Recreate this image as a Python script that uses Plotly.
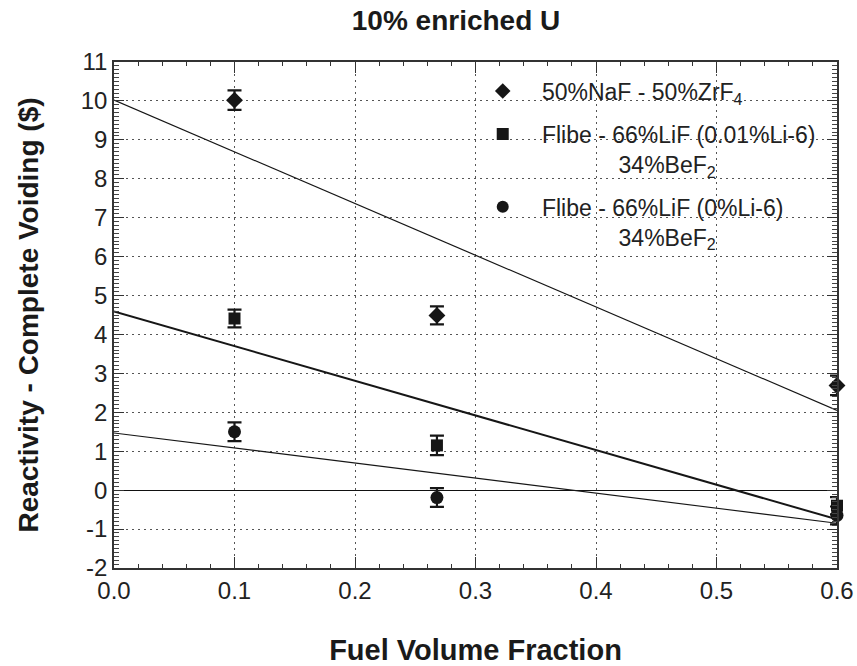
import plotly.graph_objects as go

# ---- data ----
fuel_fraction = [0.1, 0.268, 0.6]

naf_zrf4 = [10.02, 4.49, 2.69]
naf_zrf4_err = [0.25, 0.23, 0.25]

flibe_001 = [4.41, 1.15, -0.40]
flibe_001_err = [0.23, 0.25, 0.22]

flibe_0 = [1.50, -0.19, -0.65]
flibe_0_err = [0.24, 0.24, 0.23]

fit_x = [0.0, 0.6]
fit_naf_zrf4 = [10.02, 2.05]
fit_flibe_001 = [4.59, -0.75]
fit_flibe_0 = [1.47, -0.85]

x_ticks = [0.0, 0.1, 0.2, 0.3, 0.4, 0.5, 0.6]
x_tick_labels = ["0.0", "0.1", "0.2", "0.3", "0.4", "0.5", "0.6"]
y_ticks = list(range(-2, 12))
y_tick_labels = [str(v) for v in y_ticks]  # plain hyphen minus as in the reference

names = [
    "\u00a0\u00a0\u00a050%NaF - 50%ZrF<sub>4</sub>",
    "\u00a0\u00a0\u00a0Flibe - 66%LiF (0.01%Li-6)<br>" + "\u00a0" * 15 + "34%BeF<sub>2</sub>",
    "\u00a0\u00a0\u00a0Flibe - 66%LiF (0%Li-6)<br>" + "\u00a0" * 15 + "34%BeF<sub>2</sub>",
]

FONT = "Liberation Sans, Arial, Helvetica, sans-serif"
INK = "#161616"

fig = go.Figure()

# fit lines
for yv, w in [(fit_naf_zrf4, 1.2), (fit_flibe_001, 2.0), (fit_flibe_0, 1.1)]:
    fig.add_trace(go.Scatter(x=fit_x, y=yv, mode="lines",
                             line=dict(color=INK, width=w),
                             showlegend=False, hoverinfo="skip"))

series = [
    (naf_zrf4, naf_zrf4_err, "diamond", 13),
    (flibe_001, flibe_001_err, "square", 12),
    (flibe_0, flibe_0_err, "circle", 13),
]
for i, (yv, err, sym, size) in enumerate(series):
    fig.add_trace(go.Scatter(
        x=fuel_fraction, y=yv, mode="markers", name=names[i],
        legendgroup=f"g{i}", cliponaxis=False,
        marker=dict(symbol=sym, size=size, color=INK),
        error_y=dict(type="data", array=err, visible=True,
                     color=INK, thickness=2.2, width=7),
    ))

axis_common = dict(
    showline=True, linecolor="#333", linewidth=1.5,
    mirror="allticks", ticks="inside", tickcolor="#333",
    showgrid=True, gridcolor="#555", griddash="1.5px,4.5px", gridwidth=1.2,
    tickfont=dict(family=FONT, size=24, color="#222"),
    automargin=False,
)

fig.update_xaxes(
    range=[0, 0.6], tickvals=x_ticks, ticktext=x_tick_labels,
    ticklen=11, tickwidth=1.2,
    minor=dict(ticks="inside", dtick=0.02, tick0=0, ticklen=4, tickcolor="#333", showgrid=False),
    zeroline=False,
    title=dict(text="<b>Fuel Volume Fraction</b>", font=dict(family=FONT, size=29, color="#1a1a1a"), standoff=38),
    **axis_common,
)
fig.update_yaxes(
    range=[-2, 11], tickvals=y_ticks, ticktext=y_tick_labels,
    ticklen=10, tickwidth=1.2,
    minor=dict(ticks="inside", dtick=0.1, tick0=0, ticklen=5, tickcolor="#444", showgrid=False),
    zeroline=True, zerolinecolor="#111", zerolinewidth=1.3,
    title=dict(text="<b>Reactivity - Complete Voiding ($)</b>", font=dict(family=FONT, size=28, color="#1a1a1a"), standoff=34),
    **axis_common,
)

fig.update_layout(
    width=857, height=666,
    margin=dict(l=114, r=20, t=62, b=98),
    paper_bgcolor="white", plot_bgcolor="white",
    title=dict(text="<b>10% enriched U</b>", x=456 / 857, xanchor="center",
               y=1 - 20 / 666, yanchor="middle",
               font=dict(family=FONT, size=28, color="#1a1a1a")),
    legend=dict(x=0.51, y=0.985, xanchor="left", yanchor="top",
                bgcolor="rgba(0,0,0,0)", borderwidth=0,
                font=dict(family=FONT, size=23, color="#222"),
                valign="top", tracegroupgap=10, itemsizing="constant"),
    showlegend=True,
)

fig.write_html("out.html")
